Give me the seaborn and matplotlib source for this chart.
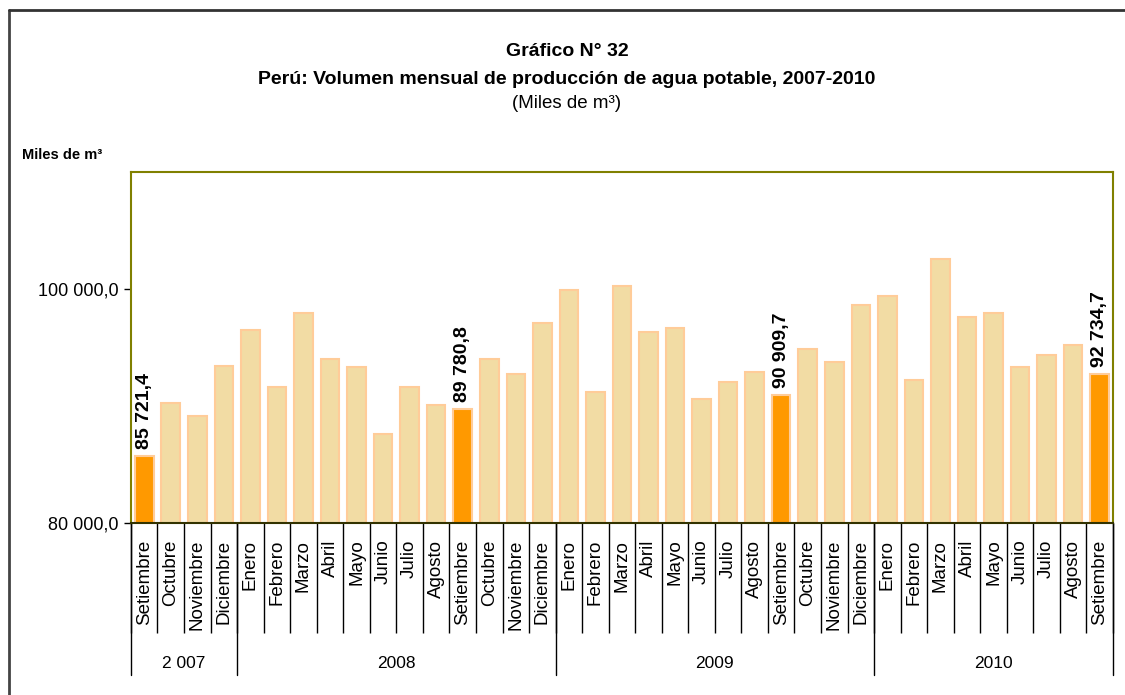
import numpy as np
import pandas as pd
import matplotlib
matplotlib.use('Agg')
import matplotlib.pyplot as plt
from matplotlib.lines import Line2D
import matplotlib.transforms as mtransforms
import seaborn as sns

# datos (miles de m3)
meses = ['Setiembre', 'Octubre', 'Noviembre', 'Diciembre',
         'Enero', 'Febrero', 'Marzo', 'Abril', 'Mayo', 'Junio', 'Julio', 'Agosto',
         'Setiembre', 'Octubre', 'Noviembre', 'Diciembre',
         'Enero', 'Febrero', 'Marzo', 'Abril', 'Mayo', 'Junio', 'Julio', 'Agosto',
         'Setiembre', 'Octubre', 'Noviembre', 'Diciembre',
         'Enero', 'Febrero', 'Marzo', 'Abril', 'Mayo', 'Junio', 'Julio', 'Agosto',
         'Setiembre']
anios = ['2007'] * 4 + ['2008'] * 12 + ['2009'] * 12 + ['2010'] * 9
anio_etiquetas = ['2 007', '2008', '2009', '2010']
volumen = [85721.4, 90215, 89185, 93451,
           96481, 91648, 97914, 94020, 93305, 87583, 91648, 90070,
           89780.8, 94020, 92762, 97054,
           99886, 91159, 100229, 96338, 96653, 90616, 92075, 92933,
           90909.7, 94908, 93791, 98655,
           99370, 92217, 102605, 97597, 97914, 93305, 94335, 95251,
           92734.7]
destacados = [0, 12, 24, 36]

df = pd.DataFrame({'periodo': [m + ' ' + a for m, a in zip(meses, anios)],
                   'mes': meses, 'anio': anios, 'volumen': volumen})

col_base = '#F2DCA4'
col_dest = '#FF9900'
paleta = {p: (col_dest if i in destacados else col_base) for i, p in enumerate(df['periodo'])}

sns.set_style('white')
plt.rcParams['font.family'] = ['Liberation Sans', 'DejaVu Sans']
plt.rcParams['text.color'] = 'black'
plt.rcParams['xtick.color'] = 'black'
plt.rcParams['ytick.color'] = 'black'
narrow = ['Liberation Sans Narrow', 'Liberation Sans', 'DejaVu Sans']

fig = plt.figure(figsize=(11.25, 6.95), dpi=100)
ax = fig.add_axes([0.1164, 0.2475, 0.8729, 0.505])

sns.barplot(data=df, x='periodo', y='volumen', hue='periodo', palette=paleta,
            order=df['periodo'], legend=False, width=0.7, saturation=1,
            edgecolor='#FFCC99', linewidth=1.5, ax=ax)

ax.set_ylim(80000, 110000)
ax.set_xlim(-0.5, len(df) - 0.5)
ax.set_yticks([80000, 100000])
ax.set_yticklabels(['80 000,0', '100 000,0'], fontsize=13)
ax.tick_params(axis='y', which='major', left=True, length=5, width=1, color='black', pad=4)
ax.set_xlabel('')
ax.set_ylabel('')

for s in ['top', 'right', 'left']:
    ax.spines[s].set_color('#808000')
    ax.spines[s].set_linewidth(1.5)
ax.spines['bottom'].set_color('#333300')
ax.spines['bottom'].set_linewidth(1.5)

# etiquetas de meses y divisiones
ax.set_xticks(range(len(df)))
ax.set_xticklabels(df['mes'], rotation=90, fontsize=13.5, va='top', ha='center')
ax.tick_params(axis='x', which='major', length=0, pad=12)
ax.set_xticks(np.arange(-0.5, len(df), 1), minor=True)
ax.tick_params(axis='x', which='minor', bottom=True, length=79, width=1, color='black')

# valores destacados
for i in destacados:
    v = df['volumen'][i]
    txt = f'{v:,.1f}'.replace(',', ' ').replace('.', ',')
    ax.annotate(txt, (i, v), xytext=(0, 5), textcoords='offset points',
                rotation=90, ha='center', va='bottom', fontsize=14, fontweight='bold')

# eje de años
trans = mtransforms.blended_transform_factory(ax.transData, ax.transAxes)
limites = [-0.5]
for a in ['2007', '2008', '2009', '2010']:
    limites.append(limites[-1] + (df['anio'] == a).sum())
for x in limites:
    ax.plot([x, x], [0, -0.433], transform=trans, color='black', lw=1, clip_on=False)
for k, lab in enumerate(anio_etiquetas):
    ax.text((limites[k] + limites[k + 1]) / 2, -0.399, lab, transform=trans,
            ha='center', va='center', fontsize=12.5)

# títulos
fig.text(0.504, 1 - 52 / 695, 'Gráfico N° 32', ha='center', va='center',
         fontsize=14, fontweight='bold', family=narrow)
fig.text(0.504, 1 - 80 / 695, 'Perú: Volumen mensual de producción de agua potable, 2007-2010',
         ha='center', va='center', fontsize=14, fontweight='bold', family=narrow)
fig.text(0.504, 1 - 104 / 695, '(Miles de m³)', ha='center', va='center',
         fontsize=13.5, family=narrow)
fig.text(22 / 1125, 1 - 155 / 695, 'Miles de m³', ha='left', va='center',
         fontsize=10.5, fontweight='bold', family=narrow)

# marco
fig.add_artist(Line2D([9 / 1125, 9 / 1125], [0, 1 - 10 / 695], transform=fig.transFigure,
                      color='#444444', lw=2))
fig.add_artist(Line2D([9 / 1125, 1], [1 - 10 / 695, 1 - 10 / 695], transform=fig.transFigure,
                      color='#333333', lw=2))

fig.savefig('out.png', dpi=100)
